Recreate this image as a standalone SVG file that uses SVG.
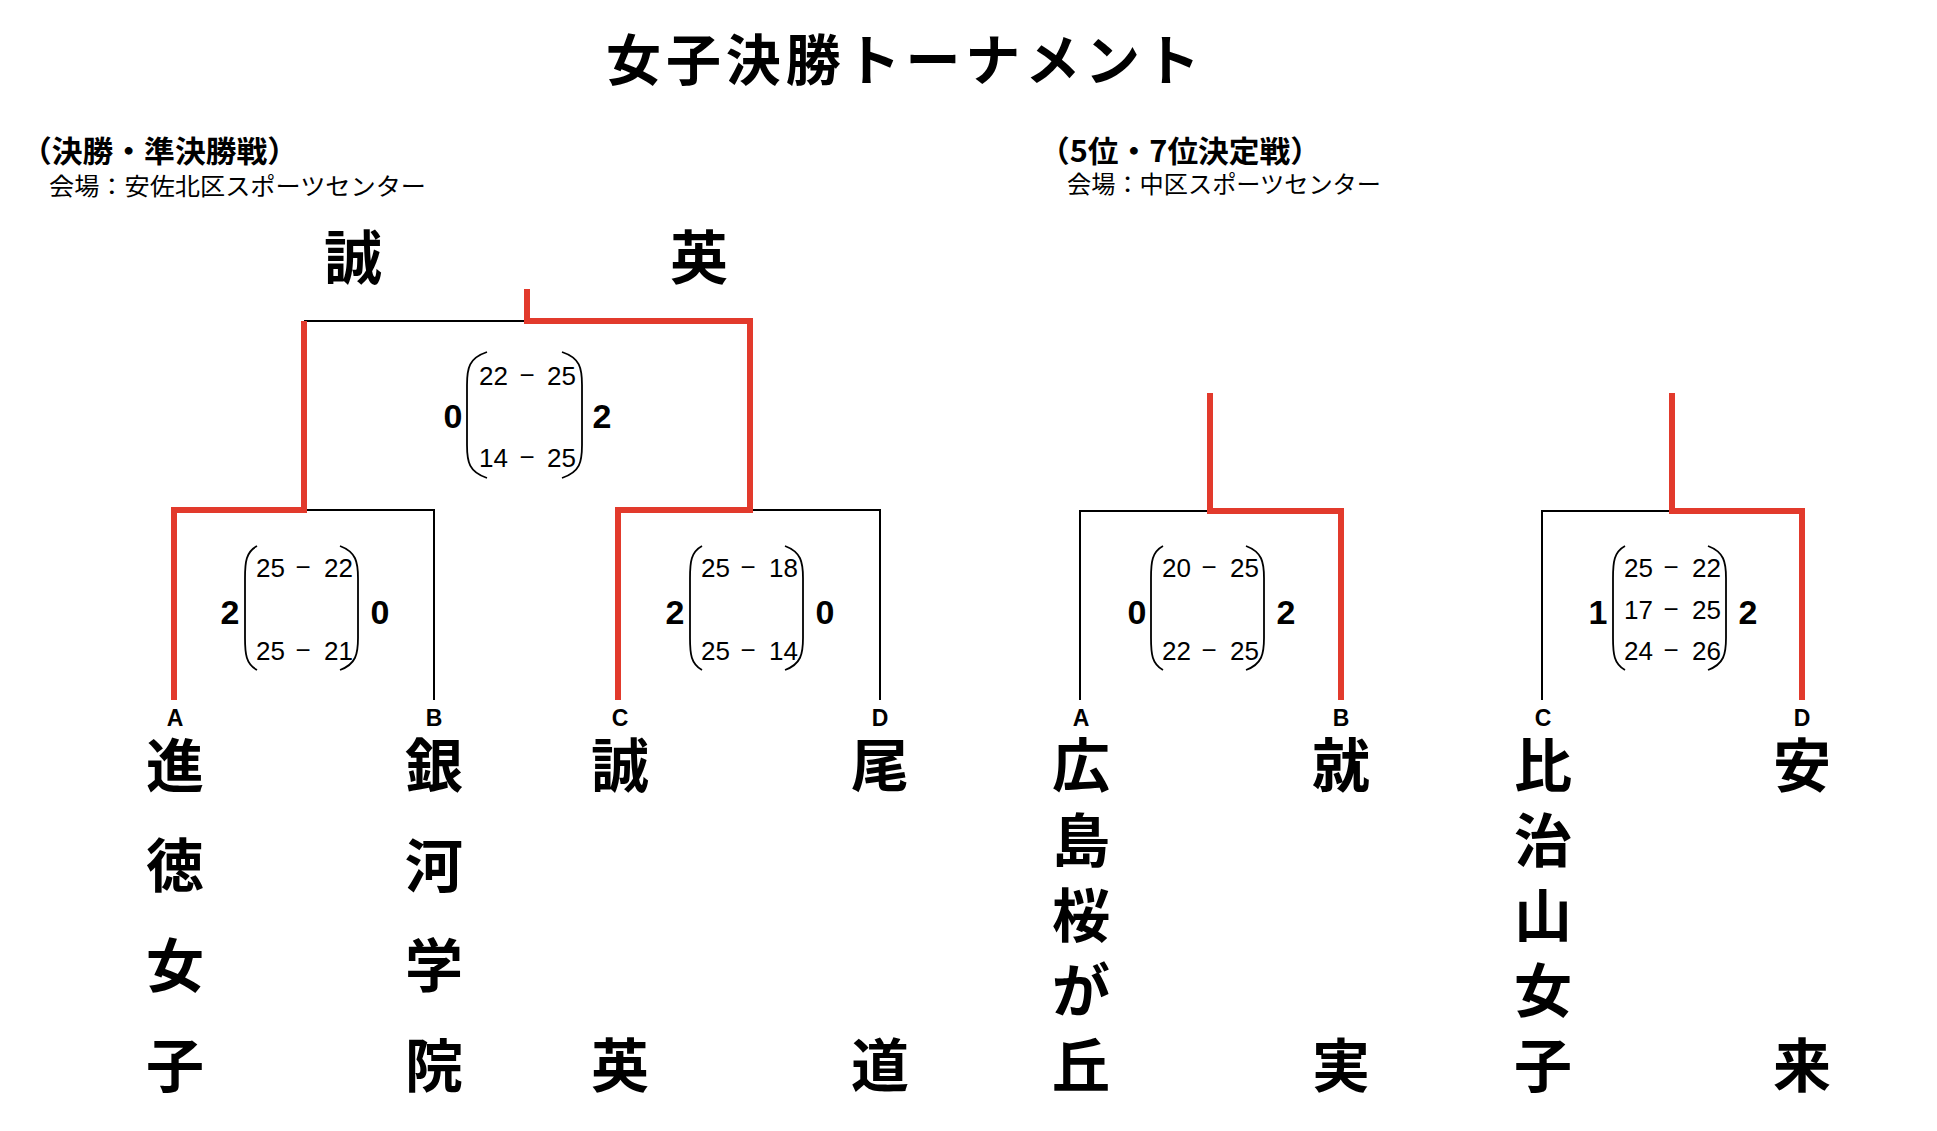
<svg xmlns="http://www.w3.org/2000/svg" width="1937" height="1131" viewBox="0 0 1937 1131">
<style>
.jp{font-family:"Noto Sans CJK JP","Noto Sans CJK SC",sans-serif;fill:#000}
.b{font-weight:700}
.team{font-family:"Noto Sans CJK JP",sans-serif;font-weight:700;font-size:58px;text-anchor:middle;fill:#000}
.lab{font-family:"Liberation Sans",Arial,sans-serif;font-size:23px;font-weight:700;text-anchor:middle;fill:#000}
.big{font-family:"Liberation Sans",Arial,sans-serif;font-weight:700;font-size:34px;text-anchor:middle;fill:#000}
.sc{font-family:"Liberation Sans",Arial,sans-serif;font-size:26px;fill:#000}
.l{text-anchor:end}
.m{text-anchor:middle}
.blk{fill:none;stroke:#000;stroke-width:2}
.red{fill:none;stroke:#e23a2c;stroke-width:6;stroke-linejoin:miter;stroke-linecap:butt}
.par{fill:none;stroke:#000;stroke-width:1.8}
</style>
<rect width="1937" height="1131" fill="#fff"/>
<g id="title">
<text class="jp b" x="903" y="80" font-size="55" text-anchor="middle" textLength="594" lengthAdjust="spacing">女子決勝トーナメント</text>
</g>
<g id="header-left">
<text class="jp b" x="21" y="162" font-size="30" textLength="277" lengthAdjust="spacingAndGlyphs">（決勝・準決勝戦）</text>
<text class="jp" x="49" y="195" font-size="24" textLength="377" lengthAdjust="spacingAndGlyphs">会場：安佐北区スポーツセンター</text>
</g>
<g id="header-right">
<text class="jp b" x="1039" y="162" font-size="30" textLength="282" lengthAdjust="spacingAndGlyphs">（5位・7位決定戦）</text>
<text class="jp" x="1067" y="193" font-size="24" textLength="314" lengthAdjust="spacingAndGlyphs">会場：中区スポーツセンター</text>
</g>
<g id="finalists">
<text class="team" x="353" y="279">誠</text>
<text class="team" x="699" y="279">英</text>
</g>
<g id="connectors">
<path class="blk" d="M304 321 H527"/>
<path class="blk" d="M304 510 H434 V700"/>
<path class="blk" d="M749 510 H880 V700"/>
<path class="blk" d="M1210 511 H1080 V700"/>
<path class="blk" d="M1672 511 H1542 V700"/>
<path class="red" d="M174 700 V510 H304 V321"/>
<path class="red" d="M618 700 V510 H750 V321 H527 V289"/>
<path class="red" d="M1210 393 V511 H1341 V700"/>
<path class="red" d="M1672 393 V511 H1802 V700"/>
</g>
<g id="match-final">
<path class="par" d="M487 352 C469 358 467 368 467 385 L467 445 C467 462 469 472 487 478"/>
<path class="par" d="M562 352 C580 358 582 368 582 385 L582 445 C582 462 580 472 562 478"/>
<text class="big" x="453" y="428">0</text>
<text class="big" x="602" y="428">2</text>
<text class="sc l" x="508" y="385">22</text><text class="sc m" x="527" y="384">−</text><text class="sc" x="547" y="385">25</text>
<text class="sc l" x="508" y="467">14</text><text class="sc m" x="527" y="466">−</text><text class="sc" x="547" y="467">25</text>
</g>
<g id="match-semi1">
<path class="par" d="M257 546 C246 552 245 562 245 578 L245 638 C245 654 246 664 257 670"/>
<path class="par" d="M340 546 C356 552 358 562 358 578 L358 638 C358 654 356 664 340 670"/>
<text class="big" x="230" y="624">2</text>
<text class="big" x="380" y="624">0</text>
<text class="sc l" x="285" y="577">25</text><text class="sc m" x="303" y="576">−</text><text class="sc" x="324" y="577">22</text>
<text class="sc l" x="285" y="660">25</text><text class="sc m" x="303" y="659">−</text><text class="sc" x="324" y="660">21</text>
</g>
<g id="match-semi2">
<path class="par" d="M702 546 C691 552 690 562 690 578 L690 638 C690 654 691 664 702 670"/>
<path class="par" d="M785 546 C801 552 803 562 803 578 L803 638 C803 654 801 664 785 670"/>
<text class="big" x="675" y="624">2</text>
<text class="big" x="825" y="624">0</text>
<text class="sc l" x="730" y="577">25</text><text class="sc m" x="748" y="576">−</text><text class="sc" x="769" y="577">18</text>
<text class="sc l" x="730" y="660">25</text><text class="sc m" x="748" y="659">−</text><text class="sc" x="769" y="660">14</text>
</g>
<g id="match-5th">
<path class="par" d="M1163 546 C1152 552 1151 562 1151 578 L1151 638 C1151 654 1152 664 1163 670"/>
<path class="par" d="M1246 546 C1262 552 1264 562 1264 578 L1264 638 C1264 654 1262 664 1246 670"/>
<text class="big" x="1137" y="624">0</text>
<text class="big" x="1286" y="624">2</text>
<text class="sc l" x="1191" y="577">20</text><text class="sc m" x="1209" y="576">−</text><text class="sc" x="1230" y="577">25</text>
<text class="sc l" x="1191" y="660">22</text><text class="sc m" x="1209" y="659">−</text><text class="sc" x="1230" y="660">25</text>
</g>
<g id="match-7th">
<path class="par" d="M1625 546 C1614 552 1613 562 1613 578 L1613 638 C1613 654 1614 664 1625 670"/>
<path class="par" d="M1708 546 C1724 552 1726 562 1726 578 L1726 638 C1726 654 1724 664 1708 670"/>
<text class="big" x="1598" y="624">1</text>
<text class="big" x="1748" y="624">2</text>
<text class="sc l" x="1653" y="577">25</text><text class="sc m" x="1671" y="576">−</text><text class="sc" x="1692" y="577">22</text>
<text class="sc l" x="1653" y="619">17</text><text class="sc m" x="1671" y="618">−</text><text class="sc" x="1692" y="619">25</text>
<text class="sc l" x="1653" y="660">24</text><text class="sc m" x="1671" y="659">−</text><text class="sc" x="1692" y="660">26</text>
</g>
<g id="team-A-left">
<text class="lab" x="175" y="726">A</text>
<text class="team"><tspan x="175" y="787">進</tspan><tspan x="175" y="887">徳</tspan><tspan x="175" y="987">女</tspan><tspan x="175" y="1087">子</tspan></text>
</g>
<g id="team-B-left">
<text class="lab" x="434" y="726">B</text>
<text class="team"><tspan x="434" y="787">銀</tspan><tspan x="434" y="887">河</tspan><tspan x="434" y="987">学</tspan><tspan x="434" y="1087">院</tspan></text>
</g>
<g id="team-C-left">
<text class="lab" x="620" y="726">C</text>
<text class="team"><tspan x="620" y="787">誠</tspan><tspan x="620" y="1087">英</tspan></text>
</g>
<g id="team-D-left">
<text class="lab" x="880" y="726">D</text>
<text class="team"><tspan x="880" y="787">尾</tspan><tspan x="880" y="1087">道</tspan></text>
</g>
<g id="team-A-right">
<text class="lab" x="1081" y="726">A</text>
<text class="team"><tspan x="1081" y="787">広</tspan><tspan x="1081" y="862">島</tspan><tspan x="1081" y="937">桜</tspan><tspan x="1081" y="1012">が</tspan><tspan x="1081" y="1087">丘</tspan></text>
</g>
<g id="team-B-right">
<text class="lab" x="1341" y="726">B</text>
<text class="team"><tspan x="1341" y="787">就</tspan><tspan x="1341" y="1087">実</tspan></text>
</g>
<g id="team-C-right">
<text class="lab" x="1543" y="726">C</text>
<text class="team"><tspan x="1543" y="787">比</tspan><tspan x="1543" y="862">治</tspan><tspan x="1543" y="937">山</tspan><tspan x="1543" y="1012">女</tspan><tspan x="1543" y="1087">子</tspan></text>
</g>
<g id="team-D-right">
<text class="lab" x="1802" y="726">D</text>
<text class="team"><tspan x="1802" y="787">安</tspan><tspan x="1802" y="1087">来</tspan></text>
</g>
</svg>
